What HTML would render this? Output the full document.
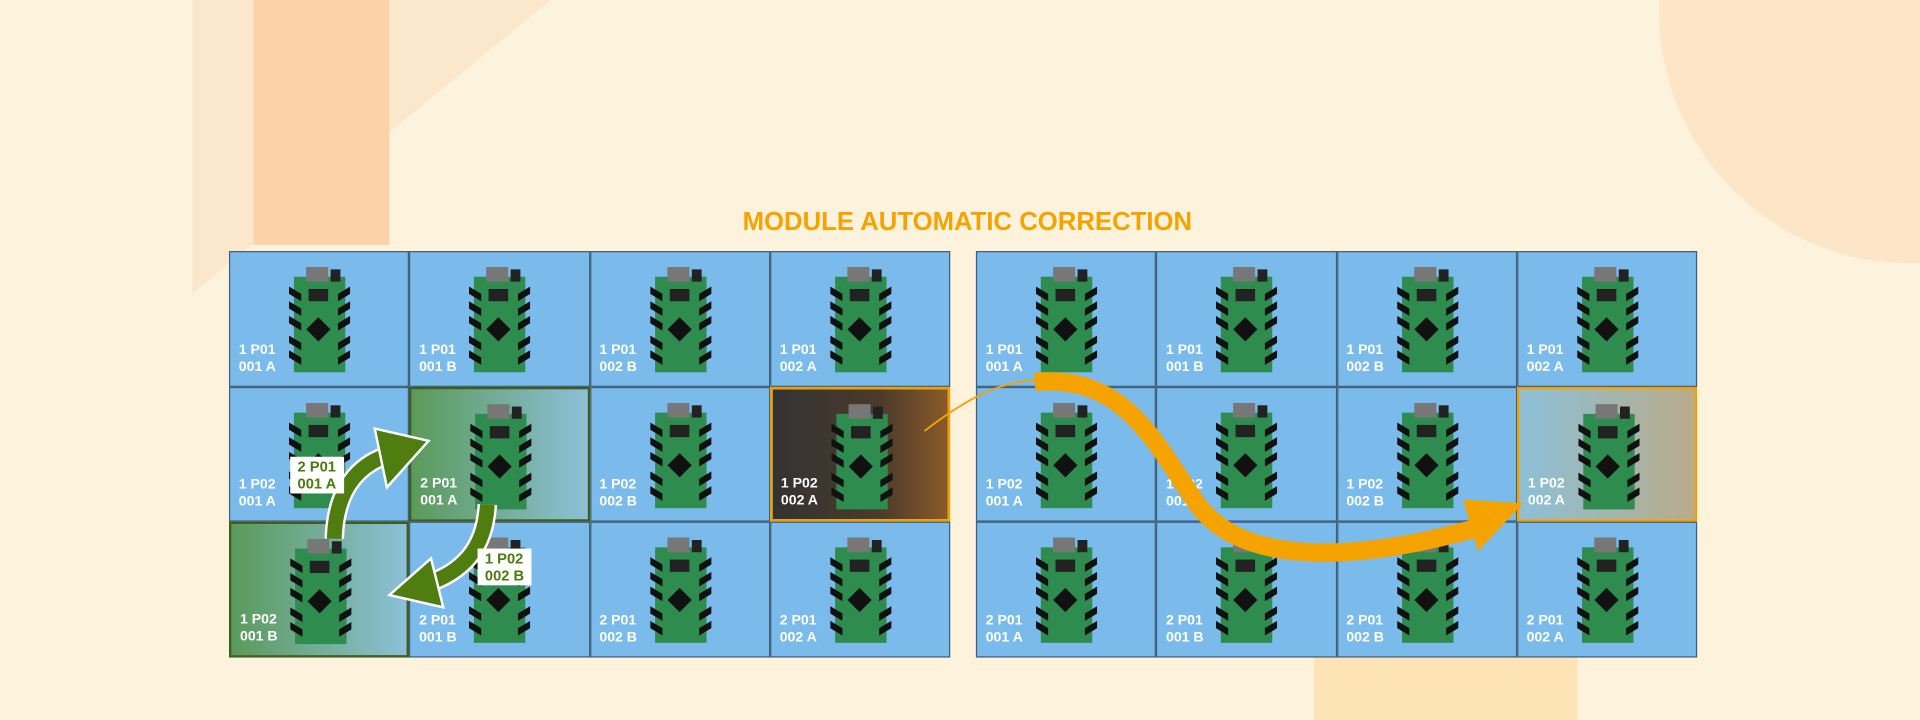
<!DOCTYPE html>
<html><head><meta charset="utf-8"><style>
html,body{margin:0;padding:0;}
body{width:1920px;height:720px;overflow:hidden;background:#fdf3dd;}
#s{position:absolute;left:0;top:0;width:1568px;height:588px;transform:scale(1.22449);transform-origin:0 0;font-family:"Liberation Sans",sans-serif;}
.c{position:absolute;width:147.25px;height:110.7px;box-sizing:border-box;border:1px solid #3f5f7a;background:#7bbbec;overflow:hidden}
.c svg{position:absolute;left:48px;top:12px;width:50px;height:88px}
.l{position:absolute;left:7px;bottom:8px;color:#fff;font-weight:bold;font-size:11.5px;line-height:14px}
.t{position:absolute;background:#fff;color:#4a7a10;font-weight:bold;font-size:12px;line-height:14px;padding:1px 6px}
</style></head><body>
<div id="s">
<svg width="1568" height="588" style="position:absolute;left:0;top:0">
<defs>
<symbol id="b" viewBox="0 0 50 88">
<rect x="4" y="8" width="42" height="78" fill="#2f8c4f"/>
<rect x="14" y="0" width="18" height="12" fill="#777"/>
<rect x="34" y="2" width="8" height="10" fill="#222"/>
<path d="M0,16 l10,6 v6 l-10,-6z M0,28 l10,6 v6 l-10,-6z M0,40 l10,6 v6 l-10,-6z M0,56 l10,6 v6 l-10,-6z M0,68 l10,6 v6 l-10,-6z M50,16 l-10,6 v6 l10,-6z M50,28 l-10,6 v6 l10,-6z M50,40 l-10,6 v6 l10,-6z M50,56 l-10,6 v6 l10,-6z M50,68 l-10,6 v6 l10,-6z" fill="#111"/>
<rect x="16" y="18" width="16" height="10" fill="#222"/>
<rect x="17" y="44" width="14" height="14" fill="#111" transform="rotate(45 24 51)"/>
</symbol>
</defs>
<polygon points="157,0 157,240 450,0" fill="#fbe8cc"/>
<rect x="207" y="0" width="111" height="200" fill="#fcd3a8"/>
<circle cx="1560" cy="10" r="205" fill="#fde6c8"/>
<rect x="1073" y="525" width="215" height="63" fill="#fde3b6"/>
<g fill="none" stroke="#a9d4f5" stroke-width="1.5" opacity=".7">
<ellipse cx="460" cy="370" rx="60" ry="45"/><ellipse cx="460" cy="370" rx="95" ry="75"/>
<ellipse cx="1040" cy="370" rx="60" ry="45"/><ellipse cx="1040" cy="370" rx="95" ry="75"/>
</g>
</svg>
<div style="position:absolute;left:0;width:1580px;top:170px;text-align:center;color:#f5a300;font-weight:bold;font-size:21px">MODULE AUTOMATIC CORRECTION</div>

<div class="c" style="left:187px;top:205px"><svg><use href="#b"/></svg><div class="l">1 P01<br>001 A</div></div>
<div class="c" style="left:334.25px;top:205px"><svg><use href="#b"/></svg><div class="l">1 P01<br>001 B</div></div>
<div class="c" style="left:481.5px;top:205px"><svg><use href="#b"/></svg><div class="l">1 P01<br>002 B</div></div>
<div class="c" style="left:628.75px;top:205px"><svg><use href="#b"/></svg><div class="l">1 P01<br>002 A</div></div>
<div class="c" style="left:187px;top:315.7px"><svg><use href="#b"/></svg><div class="l">1 P02<br>001 A</div></div>
<div class="c" style="left:334.25px;top:315.7px;border:2px solid #3d5e1e;background:linear-gradient(90deg,#5b9a5a,#8cc0d8)"><svg><use href="#b"/></svg><div class="l">2 P01<br>001 A</div></div>
<div class="c" style="left:481.5px;top:315.7px"><svg><use href="#b"/></svg><div class="l">1 P02<br>002 B</div></div>
<div class="c" style="left:628.75px;top:315.7px;border:2px solid #f0a000;background:linear-gradient(90deg,#333,#4a3a2a 60%,#8a5a2a)"><svg><use href="#b"/></svg><div class="l">1 P02<br>002 A</div></div>
<div class="c" style="left:187px;top:426.4px;border:2px solid #3d5e1e;background:linear-gradient(90deg,#5b9a5a,#8cc0d8)"><svg><use href="#b"/></svg><div class="l">1 P02<br>001 B</div></div>
<div class="c" style="left:334.25px;top:426.4px"><svg><use href="#b"/></svg><div class="l">2 P01<br>001 B</div></div>
<div class="c" style="left:481.5px;top:426.4px"><svg><use href="#b"/></svg><div class="l">2 P01<br>002 B</div></div>
<div class="c" style="left:628.75px;top:426.4px"><svg><use href="#b"/></svg><div class="l">2 P01<br>002 A</div></div>

<div class="c" style="left:797px;top:205px"><svg><use href="#b"/></svg><div class="l">1 P01<br>001 A</div></div>
<div class="c" style="left:944.25px;top:205px"><svg><use href="#b"/></svg><div class="l">1 P01<br>001 B</div></div>
<div class="c" style="left:1091.5px;top:205px"><svg><use href="#b"/></svg><div class="l">1 P01<br>002 B</div></div>
<div class="c" style="left:1238.75px;top:205px"><svg><use href="#b"/></svg><div class="l">1 P01<br>002 A</div></div>
<div class="c" style="left:797px;top:315.7px"><svg><use href="#b"/></svg><div class="l">1 P02<br>001 A</div></div>
<div class="c" style="left:944.25px;top:315.7px"><svg><use href="#b"/></svg><div class="l">1 P02<br>001 B</div></div>
<div class="c" style="left:1091.5px;top:315.7px"><svg><use href="#b"/></svg><div class="l">1 P02<br>002 B</div></div>
<div class="c" style="left:1238.75px;top:315.7px;border:2px solid #f0a000;background:linear-gradient(90deg,#8cc0d8,#b9ab8a)"><svg><use href="#b"/></svg><div class="l">1 P02<br>002 A</div></div>
<div class="c" style="left:797px;top:426.4px"><svg><use href="#b"/></svg><div class="l">2 P01<br>001 A</div></div>
<div class="c" style="left:944.25px;top:426.4px"><svg><use href="#b"/></svg><div class="l">2 P01<br>001 B</div></div>
<div class="c" style="left:1091.5px;top:426.4px"><svg><use href="#b"/></svg><div class="l">2 P01<br>002 B</div></div>
<div class="c" style="left:1238.75px;top:426.4px"><svg><use href="#b"/></svg><div class="l">2 P01<br>002 A</div></div>

<svg width="1568" height="588" style="position:absolute;left:0;top:0">
<path d="M273,440 C274,400 292,378 322,370" fill="none" stroke="#fff" stroke-width="16"/>
<path d="M273,440 C274,400 292,378 322,370" fill="none" stroke="#4f7d0f" stroke-width="12"/>
<polygon points="306,350 350,360 316,398" fill="#4f7d0f" stroke="#fff" stroke-width="2"/>
<path d="M398,412 C396,448 378,468 345,478" fill="none" stroke="#fff" stroke-width="16"/>
<path d="M398,412 C396,448 378,468 345,478" fill="none" stroke="#4f7d0f" stroke-width="12"/>
<polygon points="352,456 318,486 362,496" fill="#4f7d0f" stroke="#fff" stroke-width="2"/>
<path d="M755,352 C790,325 820,308 860,310" fill="none" stroke="#f5a300" stroke-width="1.5"/>
<path d="M845,312 C920,305 945,365 978,412 C1012,458 1095,463 1210,430" fill="none" stroke="#f5a300" stroke-width="15"/>
<polygon points="1195,408 1244,411 1207,450" fill="#f5a300"/>
</svg>
<div class="t" style="left:237px;top:373px">2 P01<br>001 A</div>
<div class="t" style="left:390px;top:448px">1 P02<br>002 B</div>
</div>
</body></html>
